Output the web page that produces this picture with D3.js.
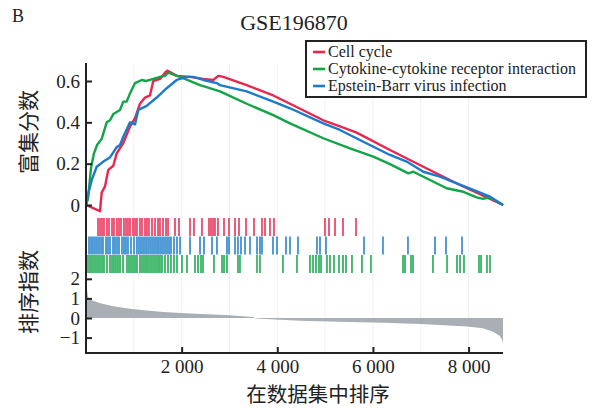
<!DOCTYPE html>
<html>
<head>
  <meta charset="utf-8">
  <script src="https://d3js.org/d3.v7.min.js"></script>
  <style>
    body { margin: 0; background: #fff; }
    text { font-family: "Liberation Serif", "DejaVu Serif", serif; fill: #222; }
    .cjk { font-family: "Noto Sans CJK SC", sans-serif; }
  </style>
</head>
<body>
<script>
// total number of ranked genes
var nGenes = 8720;

// series names and colours
var seriesNames = ["Cell cycle", "Cytokine-cytokine receptor interaction", "Epstein-Barr virus infection"];
var seriesColors = ["#e8274f", "#10a546", "#1b7bc9"];

// running enrichment score (rank, score)
var cellRank = [0, 293, 328, 397, 466, 571, 642, 780, 920, 1025, 1129, 1234, 1338, 1407, 1547, 1652, 1700, 1897, 2175, 2453, 2662, 2766, 2871, 3360, 3916, 4266, 4962, 5311, 5660, 6357, 7053, 7820, 8720];
var cellES   = [0, -0.03, 0.06, 0.09, 0.17, 0.19, 0.25, 0.30, 0.38, 0.42, 0.49, 0.52, 0.53, 0.60, 0.61, 0.64, 0.65, 0.625, 0.62, 0.61, 0.605, 0.625, 0.62, 0.58, 0.53, 0.49, 0.41, 0.38, 0.35, 0.266, 0.185, 0.097, 0];

var cytoRank = [0, 42, 105, 167, 230, 328, 433, 502, 571, 711, 780, 850, 920, 1025, 1165, 1255, 1407, 1547, 1652, 1721, 1966, 2384, 2802, 3360, 3916, 4266, 4962, 5520, 6008, 6357, 6739, 6844, 7193, 7542, 7890, 8170, 8302, 8448, 8720];
var cytoES   = [0, 0.03, 0.18, 0.25, 0.29, 0.32, 0.40, 0.41, 0.44, 0.46, 0.50, 0.50, 0.54, 0.59, 0.605, 0.60, 0.61, 0.62, 0.625, 0.64, 0.62, 0.58, 0.55, 0.49, 0.435, 0.395, 0.323, 0.274, 0.234, 0.198, 0.153, 0.161, 0.121, 0.081, 0.064, 0.037, 0.03, 0.037, 0];

var ebvRank = [0, 42, 119, 224, 362, 502, 642, 711, 780, 920, 1025, 1094, 1269, 1478, 1687, 1897, 2106, 2244, 2453, 2733, 2802, 3360, 3916, 4266, 4962, 5311, 5799, 6357, 6706, 7053, 7402, 7751, 8099, 8448, 8720];
var ebvES   = [0, 0.05, 0.12, 0.185, 0.21, 0.23, 0.28, 0.29, 0.33, 0.40, 0.39, 0.46, 0.48, 0.52, 0.565, 0.605, 0.62, 0.62, 0.605, 0.59, 0.58, 0.55, 0.50, 0.468, 0.395, 0.363, 0.306, 0.242, 0.21, 0.161, 0.137, 0.105, 0.073, 0.04, 0];

// gene set hit positions (rank)
var cellHits = [251, 293, 335, 376, 439, 481, 544, 585, 648, 690, 732, 794, 836, 878, 920, 983, 1025, 1066, 1129, 1171, 1234, 1275, 1317, 1380, 1443, 1506, 1547, 1610, 1673, 1715, 1861, 1945, 2175, 2258, 2425, 2572, 2614, 2656, 2697, 2760, 2886, 2990, 3116, 3199, 3346, 3513, 3680, 3743, 3847, 3931, 4997, 5081, 5207, 5374, 5646];
var ebvHits = [63, 105, 146, 188, 230, 272, 314, 355, 418, 460, 502, 565, 606, 648, 690, 753, 795, 836, 878, 941, 1004, 1066, 1108, 1150, 1192, 1234, 1275, 1317, 1359, 1401, 1443, 1485, 1526, 1568, 1610, 1652, 1694, 1736, 1777, 1840, 1903, 1966, 2175, 2384, 2467, 2635, 2739, 2948, 2990, 3116, 3178, 3241, 3325, 3429, 3576, 3638, 3680, 3910, 3994, 4182, 4266, 4433, 4830, 4893, 5018, 5813, 6210, 6733, 7298, 7528, 7863];
var cytoHits = [42, 84, 125, 167, 209, 251, 293, 335, 376, 439, 502, 544, 585, 627, 669, 711, 774, 857, 899, 941, 983, 1025, 1066, 1129, 1171, 1213, 1255, 1296, 1338, 1380, 1422, 1464, 1506, 1547, 1589, 1652, 1715, 1777, 1840, 1903, 2007, 2112, 2279, 2342, 2405, 2447, 2676, 2844, 2886, 2948, 3178, 3220, 3576, 3638, 4119, 4412, 4684, 4747, 4809, 4872, 4914, 5039, 5102, 5186, 5290, 5374, 5437, 5562, 5771, 5959, 6629, 6671, 6796, 6838, 7256, 7549, 7758, 7821, 7904, 8218, 8260, 8385, 8448];

// ranked list metric (rank, value)
var metricRank = [0, 15, 40, 80, 150, 300, 570, 920, 1270, 1620, 1970, 2310, 3000, 3500, 3540, 4475, 5300, 6210, 7000, 7967, 8300, 8510, 8650, 8700, 8720];
var metricVal  = [2.2, 1.6, 1.1, 0.95, 0.88, 0.75, 0.6, 0.47, 0.38, 0.31, 0.26, 0.22, 0.14, 0.05, -0.03, -0.14, -0.19, -0.24, -0.31, -0.44, -0.52, -0.7, -0.9, -1.1, -1.3];

var xTicks = [2000, 4000, 6000, 8000];
var esTicks = [0, 0.2, 0.4, 0.6];
var metricTicks = [-1, 0, 1, 2];

var width = 596, height = 409;
var svg = d3.select("body").append("svg").attr("width", width).attr("height", height);

var x = d3.scaleLinear().domain([0, nGenes]).range([86, 503]);
var yES = d3.scaleLinear().domain([0, 0.6]).range([205, 81]);
var yM = d3.scaleLinear().domain([0, 1]).range([318, 298.4]);

// faint vertical grid
svg.append("g").selectAll("line").data(d3.range(1000, 9000, 1000)).enter()
  .append("line")
  .attr("x1", d => x(d)).attr("x2", d => x(d))
  .attr("y1", 63).attr("y2", 353)
  .attr("stroke", "#eef0f3").attr("stroke-width", 1);

// ranked metric area
var metric = metricRank.map((r, i) => ({r: r, v: metricVal[i]}));
svg.append("path").datum(metric)
  .attr("fill", "#a9afb4")
  .attr("d", d3.area().x(d => x(d.r)).y0(yM(0)).y1(d => yM(d.v)));

// hit rows
var hitRows = [
  {hits: cellHits, color: seriesColors[0], y0: 218, y1: 236},
  {hits: ebvHits, color: seriesColors[2], y0: 236.5, y1: 254.5},
  {hits: cytoHits, color: seriesColors[1], y0: 255, y1: 273}
];
hitRows.forEach(function(row) {
  svg.append("g").selectAll("line").data(row.hits).enter()
    .append("line")
    .attr("x1", d => x(d)).attr("x2", d => x(d))
    .attr("y1", row.y0).attr("y2", row.y1)
    .attr("stroke", row.color).attr("stroke-width", 1.5);
});

// enrichment score curves (red, green, blue on top)
var line = d3.line().x(d => x(d.r)).y(d => yES(d.v));
var curves = [
  {rank: cellRank, es: cellES, color: seriesColors[0]},
  {rank: cytoRank, es: cytoES, color: seriesColors[1]},
  {rank: ebvRank, es: ebvES, color: seriesColors[2]}
];
curves.forEach(function(c) {
  svg.append("path")
    .datum(c.rank.map((r, i) => ({r: r, v: c.es[i]})))
    .attr("fill", "none").attr("stroke", c.color)
    .attr("stroke-width", 2.4).attr("stroke-linejoin", "round")
    .attr("d", line);
});

// axes (ticks point inward)
var fmtX = d => d3.format(",")(d).replace(",", " ");
var gx = svg.append("g").attr("transform", "translate(0,353)")
  .call(d3.axisBottom(x).tickValues(xTicks).tickFormat(fmtX).tickSize(-6).tickPadding(7));
var gy1 = svg.append("g").attr("transform", "translate(86,0)")
  .call(d3.axisLeft(yES).tickValues(esTicks).tickFormat(d => d === 0 ? "0" : d3.format(".1f")(d)).tickSize(-6).tickPadding(6));
var gy2 = svg.append("g").attr("transform", "translate(86,0)")
  .call(d3.axisLeft(yM).tickValues(metricTicks).tickFormat(d => d < 0 ? "\u2212" + Math.abs(d) : d).tickSize(-6).tickPadding(6));
[gx, gy1, gy2].forEach(function(g) {
  g.select(".domain").remove();
  g.selectAll(".tick line").attr("stroke", "#222").attr("stroke-width", 2);
  g.selectAll("text").attr("font-size", 19).attr("font-family", "Liberation Serif").attr("fill", "#222");
});

svg.append("line").attr("x1", 86).attr("x2", 86).attr("y1", 63).attr("y2", 354)
  .attr("stroke", "#222").attr("stroke-width", 2);
svg.append("line").attr("x1", 85).attr("x2", 503).attr("y1", 353).attr("y2", 353)
  .attr("stroke", "#222").attr("stroke-width", 2);

// titles
svg.append("text").attr("x", 12).attr("y", 22).attr("font-size", 18).text("B");
svg.append("text").attr("x", 294).attr("y", 30).attr("text-anchor", "middle").attr("font-size", 22).text("GSE196870");
svg.append("text").attr("class", "cjk").attr("transform", "translate(36,132) rotate(-90)")
  .attr("text-anchor", "middle").attr("font-size", 21).text("富集分数");
svg.append("text").attr("class", "cjk").attr("transform", "translate(36,292) rotate(-90)")
  .attr("text-anchor", "middle").attr("font-size", 21).text("排序指数");
svg.append("text").attr("class", "cjk").attr("x", 318).attr("y", 402)
  .attr("text-anchor", "middle").attr("font-size", 20.5).text("在数据集中排序");

// legend
var lg = svg.append("g");
lg.append("rect").attr("x", 306).attr("y", 41).attr("width", 280).attr("height", 56)
  .attr("fill", "#fff").attr("stroke", "#222").attr("stroke-width", 2);
seriesNames.forEach(function(name, i) {
  var yy = 52 + i * 17;
  lg.append("line").attr("x1", 313).attr("x2", 325).attr("y1", yy).attr("y2", yy)
    .attr("stroke", seriesColors[i]).attr("stroke-width", 2.6);
  lg.append("text").attr("x", 328).attr("y", yy + 5).attr("font-size", 16).text(name);
});
</script>
</body>
</html>
